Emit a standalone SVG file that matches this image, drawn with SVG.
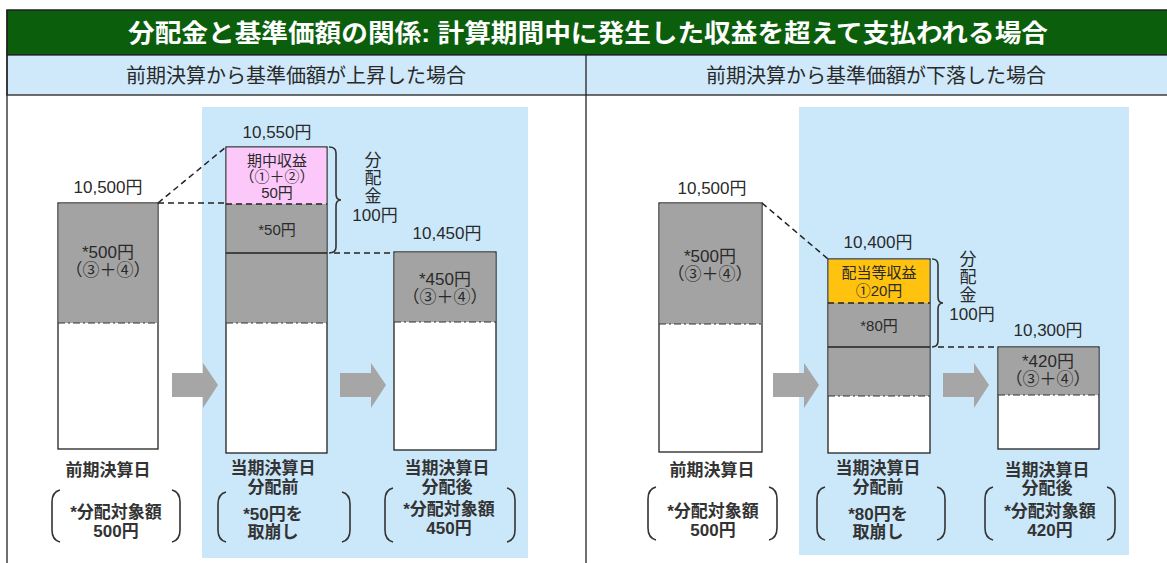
<svg xmlns="http://www.w3.org/2000/svg" width="1167" height="563" viewBox="0 0 1167 563">
<style>
text{font-family:"Liberation Sans","Noto Sans CJK JP",sans-serif;fill:#2a2a2a;text-anchor:middle;dominant-baseline:central}
.t{fill:#fff;font-size:25px;font-weight:bold}
.h{font-size:20px}
.v{font-size:17px}
.b{font-size:15px}
.l{font-size:17px;font-weight:bold;fill:#333}
.bar{stroke:#222;stroke-width:1.3}
.g{fill:#a3a3a3}
.w{fill:#fff}
.dd{stroke:#333;stroke-width:1.2;stroke-dasharray:7 3 2 3;fill:none}
.ds{stroke:#222;stroke-width:1.5;stroke-dasharray:6 4;fill:none}
.br{stroke:#333;stroke-width:1.6;fill:none}
.arr{fill:#a6a6a6}
.panel{fill:#cbe8fb}
</style>
<defs>
<path id="arrow" class="arr" d="M0,-12 L31,-12 L31,-22 L46,0 L31,23 L31,12 L0,12 Z"/>
</defs>
<rect width="1167" height="563" fill="#fff"/>
<g id="title">
<rect x="7" y="10" width="1165" height="45" fill="#0b5e0b" stroke="#222" stroke-width="1.5"/>
<text class="t" x="588" y="33" textLength="920" lengthAdjust="spacingAndGlyphs">分配金と基準価額の関係: 計算期間中に発生した収益を超えて支払われる場合</text>
</g>
<g id="header">
<rect x="7" y="55" width="1165" height="40" fill="#cfe9fa" stroke="#222" stroke-width="1.3"/>
<line x1="586" y1="55" x2="586" y2="563" stroke="#222" stroke-width="1.3"/>
<line x1="7" y1="10" x2="7" y2="563" stroke="#222" stroke-width="1.3"/>
<text class="h" x="296" y="76">前期決算から基準価額が上昇した場合</text>
<text class="h" x="876" y="76">前期決算から基準価額が下落した場合</text>
</g>
<rect class="panel" x="202" y="107" width="326" height="451"/>
<rect class="panel" x="799" y="107" width="330" height="448"/>

<g id="connectors">
<line class="ds" x1="158" y1="203" x2="226" y2="147"/>
<line class="ds" x1="158" y1="203" x2="226" y2="203"/>
<line class="ds" x1="334" y1="253" x2="394" y2="253"/>
<line class="ds" x1="762" y1="203" x2="828" y2="259"/>
<line class="ds" x1="938" y1="347" x2="998" y2="347"/>
<use href="#arrow" x="172" y="385"/>
<use href="#arrow" x="340" y="385"/>
<use href="#arrow" x="773" y="385"/>
<use href="#arrow" x="943" y="385"/>
</g>

<g id="bar1">
<text class="v" x="108" y="187">10,500円</text>
<rect class="bar w" x="58" y="203" width="100" height="246"/>
<rect class="g" x="58.7" y="203.7" width="98.6" height="119.3"/>
<line class="dd" x1="58" y1="323" x2="158" y2="323"/>
<text class="v" x="108" y="252">*500円</text>
<text class="v" x="108" y="270">（③＋④）</text>
</g>

<g id="bar2">
<text class="v" x="277" y="132">10,550円</text>
<rect class="bar w" x="226" y="147" width="101" height="306"/>
<rect x="226.7" y="147.7" width="99.6" height="56.3" fill="#fcc8fa"/>
<rect class="g" x="226.7" y="204" width="99.6" height="119"/>
<line class="ds" x1="226" y1="204" x2="327" y2="204"/>
<line stroke="#222" stroke-width="1.3" x1="226" y1="253" x2="327" y2="253"/>
<line class="dd" x1="226" y1="323" x2="327" y2="323"/>
<text class="b" x="277" y="160" fill="#4a2a4a">期中収益</text>
<text class="b" x="277" y="176">（①＋②）</text>
<text class="b" x="277" y="192">50円</text>
<text class="b" x="277" y="229">*50円</text>
</g>

<g id="dist-left">
<path class="br" d="M329,147 Q336,147 336,153 L336,194 Q336,200 341,200 Q336,200 336,206 L336,247 Q336,253 329,253"/>
<text class="v" x="373" y="160">分</text>
<text class="v" x="373" y="178">配</text>
<text class="v" x="373" y="196">金</text>
<text class="v" x="375" y="215">100円</text>
</g>

<g id="bar3">
<text class="v" x="447" y="233">10,450円</text>
<rect class="bar w" x="394" y="252" width="102" height="198"/>
<rect class="g" x="394.7" y="252.7" width="100.6" height="69.3"/>
<line class="dd" x1="394" y1="322" x2="496" y2="322"/>
<text class="v" x="445" y="279">*450円</text>
<text class="v" x="445" y="297">（③＋④）</text>
</g>

<g id="bar4">
<text class="v" x="712" y="188">10,500円</text>
<rect class="bar w" x="659" y="203" width="103" height="249"/>
<rect class="g" x="659.7" y="203.7" width="101.6" height="120.3"/>
<line class="dd" x1="659" y1="324" x2="762" y2="324"/>
<text class="v" x="710" y="256">*500円</text>
<text class="v" x="710" y="274">（③＋④）</text>
</g>

<g id="bar5">
<text class="v" x="878" y="242">10,400円</text>
<rect class="bar w" x="828" y="259" width="102" height="194"/>
<rect x="828.7" y="259.7" width="100.6" height="43.3" fill="#ffc20e"/>
<rect class="g" x="828.7" y="303" width="100.6" height="93"/>
<line class="ds" x1="828" y1="303" x2="930" y2="303"/>
<line stroke="#222" stroke-width="1.3" x1="828" y1="347" x2="930" y2="347"/>
<line class="dd" x1="828" y1="396" x2="930" y2="396"/>
<text class="b" x="879" y="272">配当等収益</text>
<text class="b" x="879" y="290">①20円</text>
<text class="b" x="879" y="325">*80円</text>
</g>

<g id="dist-right">
<path class="br" d="M932,259 Q938,259 938,265 L938,297 Q938,303 943,303 Q938,303 938,309 L938,341 Q938,347 932,347"/>
<text class="v" x="968" y="259">分</text>
<text class="v" x="968" y="277">配</text>
<text class="v" x="968" y="295">金</text>
<text class="v" x="972" y="314">100円</text>
</g>

<g id="bar6">
<text class="v" x="1048" y="330">10,300円</text>
<rect class="bar w" x="998" y="347" width="101" height="102"/>
<rect class="g" x="998.7" y="347.7" width="99.6" height="47.3"/>
<line class="dd" x1="998" y1="395" x2="1099" y2="395"/>
<text class="v" x="1048" y="361">*420円</text>
<text class="v" x="1048" y="379">（③＋④）</text>
</g>

<g id="label1">
<text class="l" x="108" y="470">前期決算日</text>
<path class="br" d="M60,490 Q52,492 52,502 L52,530 Q52,540 60,542"/>
<path class="br" d="M172,490 Q180,492 180,502 L180,530 Q180,540 172,542"/>
<text class="l" x="116" y="512">*分配対象額</text>
<text class="l" x="116" y="531">500円</text>
</g>
<g id="label2">
<text class="l" x="273" y="468">当期決算日</text>
<text class="l" x="273" y="487">分配前</text>
<path class="br" d="M226,492 Q218,494 218,504 L218,530 Q218,540 226,542"/>
<path class="br" d="M342,492 Q350,494 350,504 L350,530 Q350,540 342,542"/>
<text class="l" x="273" y="514">*50円を</text>
<text class="l" x="273" y="532">取崩し</text>
</g>
<g id="label3">
<text class="l" x="447" y="468">当期決算日</text>
<text class="l" x="447" y="487">分配後</text>
<path class="br" d="M393,488 Q385,490 385,500 L385,530 Q385,540 393,542"/>
<path class="br" d="M507,488 Q515,490 515,500 L515,530 Q515,540 507,542"/>
<text class="l" x="449" y="509">*分配対象額</text>
<text class="l" x="449" y="528">450円</text>
</g>
<g id="label4">
<text class="l" x="712" y="470">前期決算日</text>
<path class="br" d="M656,487 Q648,489 648,499 L648,528 Q648,538 656,540"/>
<path class="br" d="M769,487 Q777,489 777,499 L777,528 Q777,538 769,540"/>
<text class="l" x="713" y="511">*分配対象額</text>
<text class="l" x="713" y="530">500円</text>
</g>
<g id="label5">
<text class="l" x="878" y="468">当期決算日</text>
<text class="l" x="878" y="487">分配前</text>
<path class="br" d="M825,487 Q817,489 817,499 L817,528 Q817,538 825,540"/>
<path class="br" d="M937,487 Q945,489 945,499 L945,528 Q945,538 937,540"/>
<text class="l" x="878" y="514">*80円を</text>
<text class="l" x="878" y="532">取崩し</text>
</g>
<g id="label6">
<text class="l" x="1047" y="470">当期決算日</text>
<text class="l" x="1047" y="488">分配後</text>
<path class="br" d="M993,487 Q985,489 985,499 L985,528 Q985,538 993,540"/>
<path class="br" d="M1107,487 Q1115,489 1115,499 L1115,528 Q1115,538 1107,540"/>
<text class="l" x="1050" y="511">*分配対象額</text>
<text class="l" x="1050" y="530">420円</text>
</g>
</svg>
